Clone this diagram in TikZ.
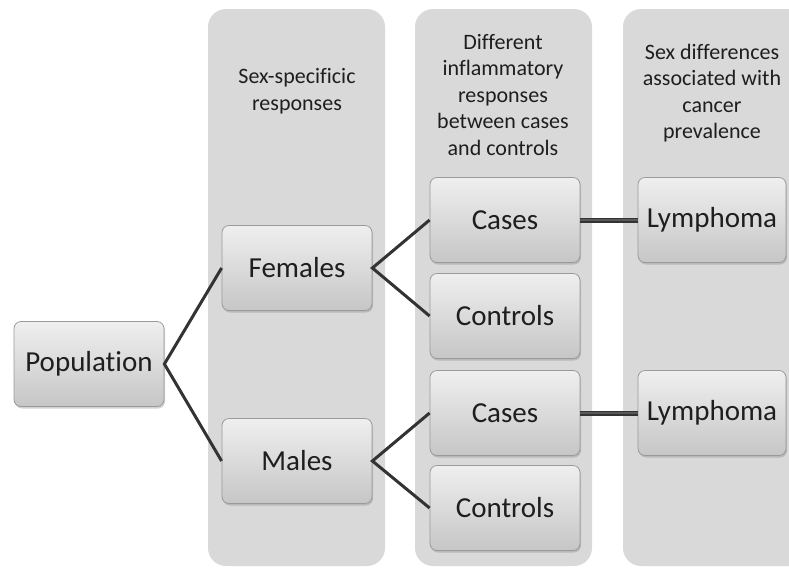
\documentclass[tikz,border=0pt]{standalone}
\usepackage{fontspec}
\setmainfont{Carlito}[Ligatures=NoCommon]
\usetikzlibrary{shadows}
\definecolor{panelgray}{HTML}{D9D9D9}
\definecolor{boxtop}{HTML}{EFEFEF}
\definecolor{boxbot}{HTML}{C6C6C6}
\definecolor{boxline}{HTML}{9A9A9A}
\definecolor{inkgray}{HTML}{1E1E1E}
\definecolor{linkgray}{HTML}{333333}
\begin{document}
\begin{tikzpicture}[x=1pt, y=-1pt,
    box/.style={rounded corners=7pt, draw=boxline, line width=0.8pt,
        top color=boxtop, bottom color=boxbot, text=inkgray,
        minimum width=150pt, minimum height=85pt, inner sep=0pt,
        font=\fontsize{29}{35}\selectfont,
        drop shadow={shadow xshift=1pt, shadow yshift=-2pt, opacity=0.35}},
    head/.style={align=center, text=inkgray, inner sep=0pt,
        font=\fontsize{22}{26.5}\selectfont},
    link/.style={draw=linkgray, line width=3pt}]
    \clip (0, 0) rectangle (789, 568);
    % column panels
    \fill[panelgray, rounded corners=18pt] (208, 9) rectangle (385, 566);
    \fill[panelgray, rounded corners=18pt] (415, 9) rectangle (592, 566);
    \fill[panelgray, rounded corners=18pt] (623, 9) rectangle (820, 566);
    \node[head] (headsex) at (297, 91) {Sex-specificic\\responses};
    \node[head] (headinfl) at (503, 95) {Different\\inflammatory\\responses\\between cases\\and controls};
    \node[head] (headcancer) at (712, 93) {Sex differences\\associated with\\cancer\\prevalence};
    % tree
    \node[box] (pop) at (89, 364) {Population};
    \node[box] (fem) at (297, 268) {Females};
    \node[box] (mal) at (297, 461) {Males};
    \node[box] (femcases) at (505, 220) {Cases};
    \node[box] (femctrl) at (505, 316) {Controls};
    \node[box] (malcases) at (505, 413) {Cases};
    \node[box] (malctrl) at (505, 508) {Controls};
    \node[box, minimum width=148pt] (femlymph) at (712, 220) {Lymphoma};
    \node[box, minimum width=148pt] (mallymph) at (712, 413) {Lymphoma};
    \draw[link] (fem.west) -- (pop.east) -- (mal.west);
    \draw[link] (femcases.west) -- (fem.east) -- (femctrl.west);
    \draw[link] (malcases.west) -- (mal.east) -- (malctrl.west);
    \draw[link, line width=1.8pt, double=black!65, double distance=1.4pt] (femcases.east) -- (femlymph.west);
    \draw[link, line width=1.8pt, double=black!65, double distance=1.4pt] (malcases.east) -- (mallymph.west);
\end{tikzpicture}
\end{document}
